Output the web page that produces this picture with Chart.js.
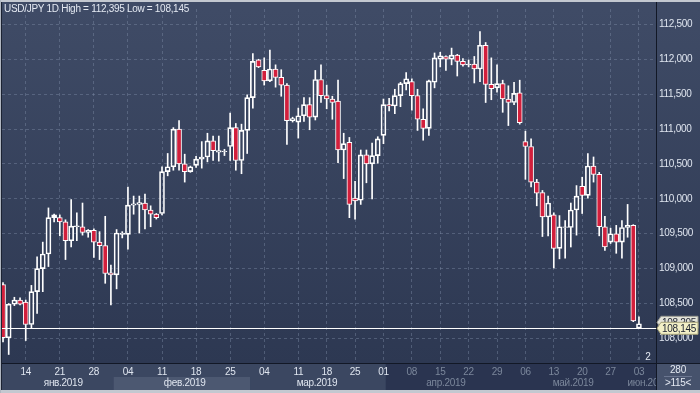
<!DOCTYPE html>
<html><head><meta charset="utf-8">
<script src="https://cdn.jsdelivr.net/npm/chart.js@4.4.1/dist/chart.umd.min.js"></script>
<style>html,body{margin:0;padding:0;background:#36415b;overflow:hidden}#wrap{width:700px;height:393px;position:relative}</style>
</head><body><div id="wrap"><canvas id="c" width="700" height="393"></canvas></div>
<script>
// ---- data (daily candles) ----
const openV = [108.77,108.01,108.49,108.55,108.52,108.20,108.67,109.00,109.21,109.73,
109.73,109.67,109.40,109.60,109.60,109.52,109.55,109.38,109.33,108.94,
108.91,109.49,109.49,109.91,109.92,109.94,109.84,109.78,109.79,110.39,
110.46,111.00,110.50,110.39,110.48,110.57,110.60,110.83,110.67,110.675,
110.75,111.02,110.55,110.98,111.45,111.99,111.84,111.69,111.86,111.74,
111.63,111.12,111.10,111.19,111.35,111.17,111.71,111.48,111.43,111.40,
110.70,110.81,110.01,109.98,110.63,110.50,110.62,110.91,111.35,111.33,
111.48,111.65,111.68,111.48,111.14,111.01,111.67,112.00,112.04,112.00,
112.06,111.97,111.92,111.93,111.86,112.20,111.64,111.59,111.65,111.43,
111.38,111.52,110.82,110.75,110.24,110.09,109.74,109.77,109.29,109.59,
109.59,109.84,110.18,110.05,110.47,110.35,109.60,109.38,109.50,109.38,
109.59,109.62,108.15];
const highV = [108.80,108.50,108.59,108.58,108.55,108.76,109.17,109.38,109.87,109.78,
109.77,109.70,109.99,109.80,109.94,109.56,109.57,109.53,109.75,109.05,
109.56,109.53,110.17,110.04,110.04,110.07,109.90,109.79,110.46,110.65,
111.02,111.12,110.64,110.47,110.61,110.82,110.94,110.90,110.90,110.71,
111.23,111.08,111.07,111.49,112.08,112.00,112.02,112.13,111.92,111.85,
111.65,111.17,111.30,111.45,111.45,111.84,111.92,111.63,111.47,111.70,
110.94,110.88,110.25,110.70,110.70,110.80,110.89,111.43,111.44,111.57,
111.67,111.81,111.72,111.57,111.29,111.70,112.09,112.10,112.05,112.16,
112.07,112.01,111.99,112.04,112.395,112.24,112.02,111.92,111.70,111.62,
111.67,111.70,110.97,110.86,110.28,110.12,110.04,109.80,109.76,109.69,
109.94,110.19,110.31,110.65,110.60,110.38,109.75,109.58,109.62,109.69,
109.92,109.63,108.31];
const lowV = [107.95,107.77,108.47,108.48,107.97,108.14,108.36,108.67,109.03,109.67,
109.47,109.13,109.31,109.40,109.48,109.45,109.16,109.13,108.79,108.48,
108.71,109.44,109.28,109.78,109.51,109.57,109.60,109.71,109.77,110.33,
110.41,110.41,110.24,110.38,110.45,110.44,110.53,110.55,110.54,110.62,
110.55,110.41,110.36,110.65,111.30,111.88,111.63,111.68,111.60,111.47,
110.78,111.10,110.87,111.11,110.99,111.13,111.38,111.29,111.14,110.52,
110.29,109.73,109.71,109.92,110.23,110.00,110.51,110.79,111.26,111.22,
111.32,111.56,111.27,110.98,110.84,110.91,111.59,111.89,111.84,111.92,
111.76,111.90,111.89,111.66,111.68,111.38,111.42,111.53,111.24,111.05,
111.35,111.07,110.28,110.17,109.90,109.46,109.47,109.01,109.14,109.15,
109.31,109.48,109.79,110.01,110.24,109.47,109.26,109.36,109.22,109.15,
109.45,108.24,108.145];
const closeV = [108.01,108.49,108.55,108.49,108.20,108.67,109.00,109.21,109.73,109.77,
109.67,109.40,109.61,109.615,109.52,109.55,109.38,109.33,108.93,108.91,
109.51,109.51,109.91,109.93,109.945,109.84,109.78,109.73,110.39,110.46,
111.00,110.50,110.39,110.46,110.57,110.60,110.83,110.69,110.69,110.685,
111.02,110.55,110.98,111.45,111.97,111.89,111.69,111.86,111.74,111.63,
111.12,111.15,111.19,111.35,111.17,111.71,111.48,111.43,111.38,110.70,
110.79,109.92,109.97,110.63,110.50,110.62,110.86,111.35,111.33,111.48,
111.65,111.72,111.48,111.14,111.01,111.69,112.02,112.05,112.00,112.06,
111.97,111.92,111.93,111.86,112.20,111.64,111.58,111.65,111.43,111.38,
111.51,111.09,110.75,110.24,110.08,109.74,109.94,109.29,109.60,109.60,
109.84,110.04,110.05,110.47,110.35,109.60,109.31,109.50,109.38,109.59,
109.62,108.25,108.21];

const tickIdx    = [4,10,16,22,28,34,40,46,52,57,62,67,72,77,82,87,92,97,102,107,112];
const tickLabels = ['14','21','28','04','11','18','25','04','11','18','25','01','08','15','22','29','06','13','20','27','03'];
const monthLabels = ['янв.2019','фев.2019','мар.2019','апр.2019','май.2019','июн.2019'];
const monthPos    = [10.6, 32.0, 55.3, 78.0, 100.4, 113.6];
const yTicks = [108.0,108.5,109.0,109.5,110.0,110.5,111.0,111.5,112.0,112.5];
const lastPrice = 108.145;
const dayHigh = 112.395, dayLow = 108.145;

// ---- styling ----
const RED = '#d21f3c';
const FONT = '"Liberation Sans", Arial, sans-serif';
const fmt = v => v.toFixed(3).replace('.', ',');

const upperWick = openV.map((o,i)=>({x:i, y:[Math.max(o,closeV[i]), highV[i]]}));
const lowerWick = openV.map((o,i)=>({x:i, y:[lowV[i], Math.min(o,closeV[i])]}));
const bodies    = openV.map((o,i)=>({x:i, y:[o, closeV[i]]}));
const bodyFill  = openV.map((o,i)=> closeV[i] < o ? RED : 'rgba(0,0,0,0)');

const bgPlugin = {
  id:'bg',
  beforeDraw(chart){
    const {ctx, chartArea:a, width, height} = chart;
    ctx.letterSpacing = '-0.3px';
    const x = chart.scales.x;
    ctx.save();
    ctx.fillStyle = '#36415b'; ctx.fillRect(0,0,width,height);
    const g = ctx.createLinearGradient(0,a.top,0,a.bottom);
    g.addColorStop(0,'#3f4b66'); g.addColorStop(1,'#2d3852');
    ctx.fillStyle = g; ctx.fillRect(a.left, 0, width-a.left, a.bottom);
    // x-axis panel
    const ph = height - 3 - a.bottom;
    ctx.fillStyle = '#3b4761'; ctx.fillRect(a.left, a.bottom, a.right-a.left, ph);
    const f0 = x.getPixelForValue(19.5), f1 = x.getPixelForValue(43.5);
    ctx.fillStyle = '#4c5871'; ctx.fillRect(f0, a.bottom+14, f1-f0, ph-14);
    const dx = x.getPixelForValue(67.4);
    ctx.fillStyle = '#2a3450'; ctx.fillRect(dx, a.bottom, a.right-dx, ph);
    // right bottom box
    ctx.fillStyle = '#46526c'; ctx.fillRect(a.right, a.bottom, width-a.right, ph);
    ctx.fillStyle = '#6b7690'; ctx.fillRect(a.right+8, a.bottom+13, width-a.right-16, 1);
    // frame
    ctx.fillStyle = '#c3c8d0'; ctx.fillRect(0,0,width,2); ctx.fillRect(0,height-3,width,3);
    ctx.fillStyle = '#b0b6c0'; ctx.fillRect(0,0,1,height);
    ctx.fillStyle = '#1c2333'; ctx.fillRect(1,2,1,height-5);
    // dividers
    ctx.fillStyle = '#121826';
    ctx.fillRect(Math.round(a.right), 2, 1, height-5);
    ctx.fillRect(a.left, Math.round(a.bottom), width-a.left, 1);
    ctx.restore();
  },
  afterDatasetsDraw(chart){
    const {ctx, chartArea:a} = chart;
    const y = Math.round(chart.scales.y.getPixelForValue(lastPrice));
    ctx.save();
    ctx.fillStyle = '#ffffff';
    ctx.fillRect(a.left, y, a.right-a.left, 1);
    ctx.restore();
  },
  afterDraw(chart){
    const {ctx, chartArea:a, width} = chart;
    const x = chart.scales.x;
    ctx.save();
    ctx.font = '10px ' + FONT;
    ctx.textBaseline = 'middle';
    // title
    ctx.fillStyle = '#e4e9f2'; ctx.textAlign = 'left';
    ctx.fillText('USD/JPY 1D High = ' + fmt(dayHigh) + ' Low = ' + fmt(dayLow), 4, 9);
    // month labels
    ctx.save();
    ctx.beginPath(); ctx.rect(a.left, a.bottom, a.right-a.left, 30); ctx.clip();
    ctx.textAlign = 'center';
    monthLabels.forEach((m,k)=>{
      ctx.fillStyle = k < 3 ? '#dfe5ef' : '#7b879b';
      ctx.fillText(m, x.getPixelForValue(monthPos[k]), a.bottom + 20);
    });
    ctx.restore();
    // bottom-right box
    ctx.textAlign = 'center'; ctx.fillStyle = '#e4e9f2';
    ctx.fillText('280', (a.right+width)/2, a.bottom + 7);
    ctx.fillText('>115<', (a.right+width)/2, a.bottom + 20);
    // "2" marker
    ctx.fillText('2', a.right - 8, a.bottom - 6);
    ctx.fillStyle = '#56627a';
    ctx.beginPath(); ctx.moveTo(a.right-19, a.bottom-3); ctx.lineTo(a.right-16, a.bottom-7); ctx.lineTo(a.right-16, a.bottom-3); ctx.fill();
    // price tags
    const py = chart.scales.y.getPixelForValue(lastPrice);
    const tag = (cy, fill, stroke, txt) => {
      ctx.beginPath();
      ctx.moveTo(a.right+1, cy);
      ctx.lineTo(a.right+5, cy-6); ctx.lineTo(width-2, cy-6);
      ctx.lineTo(width-2, cy+6); ctx.lineTo(a.right+5, cy+6); ctx.closePath();
      ctx.fillStyle = fill; ctx.fill();
      ctx.strokeStyle = stroke; ctx.lineWidth = 1; ctx.stroke();
      ctx.fillStyle = '#1d2230'; ctx.textAlign = 'left';
      ctx.fillText(txt, a.right+6, cy+0.5);
    };
    tag(py-6, '#e3e3da', '#9a9a90', '108,205');
    tag(py, '#f2efc6', '#a6a27a', fmt(lastPrice));
    ctx.restore();
  }
};

new Chart(document.getElementById('c'), {
  type:'bar',
  data:{
    datasets:[
      {data:upperWick, backgroundColor:'#ffffff', borderWidth:0, barThickness:1, grouped:false},
      {data:lowerWick, backgroundColor:'#ffffff', borderWidth:0, barThickness:1, grouped:false},
      {data:bodies, backgroundColor:bodyFill, borderColor:'#ffffff', borderWidth:1, borderSkipped:false, barThickness:5, grouped:false}
    ]
  },
  options:{
    responsive:false, animation:false, events:[],
    layout:{padding:{left:2, top:3, right:0, bottom:3}},
    plugins:{legend:{display:false}, tooltip:{enabled:false}},
    scales:{
      x:{
        type:'linear', min:-0.18, max:115, offset:false,
        afterFit(s){ s.height = 27; },
        afterBuildTicks(s){ s.ticks = tickIdx.map(v=>({value:v})); },
        grid:{color:'rgba(128,143,170,0.42)', drawTicks:false, offset:false},
        border:{display:false, dash:[3,3]},
        ticks:{
          autoSkip:false, maxRotation:0, padding:3,
          font:{family:FONT, size:10},
          color:(c)=> (c.tick && c.tick.value > 67) ? '#7b879b' : '#dfe5ef',
          callback:(v)=>{ const k = tickIdx.indexOf(v); return k>=0 ? tickLabels[k] : ''; }
        }
      },
      y:{
        position:'right', min:107.648, max:112.72,
        afterFit(s){ s.width = 44; },
        afterBuildTicks(s){ s.ticks = yTicks.map(v=>({value:v})); },
        grid:{color:'rgba(128,143,170,0.42)', drawTicks:false},
        border:{display:false, dash:[3,3]},
        ticks:{padding:3, font:{family:FONT, size:10}, color:'#dfe5ef', callback:(v)=>fmt(v)}
      }
    }
  },
  plugins:[bgPlugin]
});
</script>
</body></html>
